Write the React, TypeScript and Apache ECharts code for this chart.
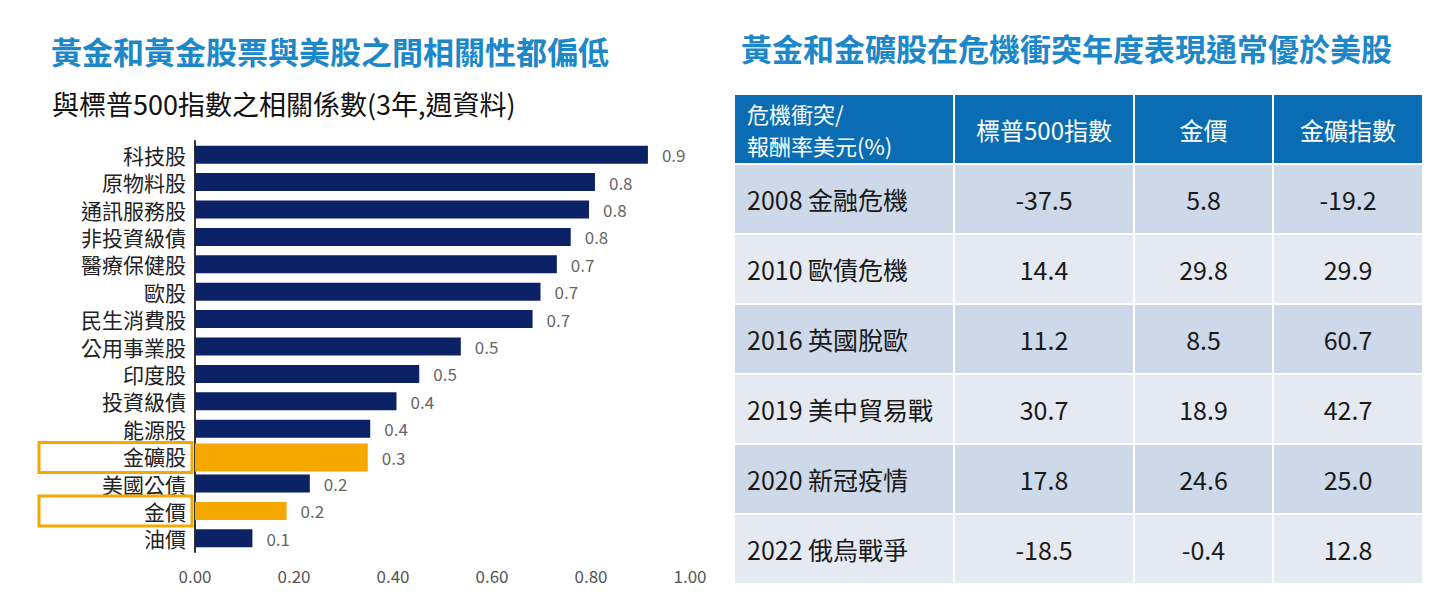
import React, { useEffect, useRef } from "react";
import * as echarts from "echarts";

// ---- Left chart data ----
const categories = ["科技股", "原物料股", "通訊服務股", "非投資級債", "醫療保健股", "歐股", "民生消費股", "公用事業股", "印度股", "投資級債", "能源股", "金礦股", "美國公債", "金價", "油價"];
const correlations = [0.915, 0.808, 0.796, 0.759, 0.731, 0.698, 0.682, 0.537, 0.453, 0.407, 0.354, 0.349, 0.232, 0.185, 0.116];
const highlighted = ["金礦股", "金價"];
const widened = ["金礦股"];

// ---- Right table data ----
const tableHeaders = [["危機衝突/", "報酬率美元(%)"], ["標普500指數"], ["金價"], ["金礦指數"]];
const crises = ["2008 金融危機", "2010 歐債危機", "2016 英國脫歐", "2019 美中貿易戰", "2020 新冠疫情", "2022 俄烏戰爭"];
const sp500Returns = [-37.5, 14.4, 11.2, 30.7, 17.8, -18.5];
const goldReturns = [5.8, 29.8, 8.5, 18.9, 24.6, -0.4];
const goldMinerReturns = [-19.2, 29.9, 60.7, 42.7, 25.0, 12.8];

const leftTitle = "黃金和黃金股票與美股之間相關性都偏低";
const subTitle = "與標普500指數之相關係數(3年,週資料)";
const rightTitle = "黃金和金礦股在危機衝突年度表現通常優於美股";

const FONT = '"Noto Sans CJK TC", "Noto Sans", sans-serif';
const NAVY = "#0b2266";
const ORANGE = "#f5a800";
const TITLE_BLUE = "#1c87c9";
const HEADER_BLUE = "#0a6db4";
const ROW_DARK = "#cdd8e8";
const ROW_LIGHT = "#e5eaf2";

function buildTable() {
  const colEdges = [735, 954, 1134, 1273, 1422];
  const headerTop = 95;
  const headerH = 68;
  const rowTop = 165;
  const rowH = 70;
  const gap = 2;
  const lineStep = 32;
  const els: any[] = [];
  for (let c = 0; c < 4; c++) {
    const x0 = colEdges[c] + (c === 0 ? 0 : gap / 2);
    const x1 = colEdges[c + 1] - (c === 3 ? 0 : gap / 2);
    els.push({ type: "rect", shape: { x: x0, y: headerTop, width: x1 - x0, height: headerH }, style: { fill: HEADER_BLUE } });
    const lines = tableHeaders[c];
    lines.forEach((line, k) => {
      const cy = headerTop + headerH / 2 + (k - (lines.length - 1) / 2) * lineStep;
      els.push({
        type: "text",
        x: c === 0 ? colEdges[0] + 12 : (x0 + x1) / 2,
        y: cy,
        style: {
          text: line,
          fill: "#ffffff",
          fontSize: lines.length > 1 ? 22 : 24,
          lineHeight: lines.length > 1 ? 22 : 26,
          fontFamily: FONT,
          align: c === 0 ? "left" : "center",
          verticalAlign: "middle",
        },
      });
    });
  }
  const rows = crises.map((name, i) => [name, sp500Returns[i].toFixed(1), goldReturns[i].toFixed(1), goldMinerReturns[i].toFixed(1)]);
  rows.forEach((row, r) => {
    const y0 = rowTop + r * rowH;
    for (let c = 0; c < 4; c++) {
      const x0 = colEdges[c] + (c === 0 ? 0 : gap / 2);
      const x1 = colEdges[c + 1] - (c === 3 ? 0 : gap / 2);
      els.push({ type: "rect", shape: { x: x0, y: y0, width: x1 - x0, height: rowH - gap }, style: { fill: r % 2 === 0 ? ROW_DARK : ROW_LIGHT } });
      els.push({
        type: "text",
        x: c === 0 ? colEdges[0] + 12 : (x0 + x1) / 2,
        y: y0 + (rowH - gap) / 2,
        style: {
          text: row[c],
          fill: "#1a1a1a",
          fontSize: 25,
          fontFamily: FONT,
          align: c === 0 ? "left" : "center",
          verticalAlign: "middle",
        },
      });
    }
  });
  return els;
}

export default function App() {
  const ref = useRef<HTMLDivElement>(null);
  useEffect(() => {
    document.body.style.margin = "0";
    if (!ref.current) return;
    const chart = echarts.init(ref.current, undefined, { renderer: "svg" });
    const option: any = {
      animation: false,
      backgroundColor: "#ffffff",
      title: [
        { text: leftTitle, left: 46, top: 30, textStyle: { color: TITLE_BLUE, fontSize: 31, fontWeight: "bold", fontFamily: FONT } },
        { text: subTitle, left: 47, top: 85, textStyle: { color: "#111111", fontSize: 27, fontWeight: "normal", fontFamily: FONT } },
        { text: rightTitle, left: 736, top: 27, textStyle: { color: TITLE_BLUE, fontSize: 31, fontWeight: "bold", fontFamily: FONT } },
      ],
      grid: { left: 195, right: 766, top: 141, bottom: 49, containLabel: false },
      xAxis: {
        type: "value",
        min: 0,
        max: 1,
        interval: 0.2,
        axisLine: { show: false },
        axisTick: { show: false },
        splitLine: { show: false },
        axisLabel: { formatter: (v: number) => v.toFixed(2), color: "#555555", fontSize: 17, fontFamily: FONT, margin: 15 },
      },
      yAxis: {
        type: "category",
        data: categories,
        inverse: true,
        axisLine: { show: true, lineStyle: { color: "#333333", width: 2 } },
        axisTick: { show: false },
        axisLabel: { color: "#222222", fontSize: 21, lineHeight: 22, fontFamily: FONT, margin: 9, interval: 0 },
      },
      series: [
        {
          type: "custom",
          encode: { x: 0, y: 1 },
          data: correlations.map((v, i) => [v, categories[i]]),
          renderItem: (params: any, api: any) => {
            const i = params.dataIndex;
            const v = api.value(0);
            const start = api.coord([0, i]);
            const end = api.coord([v, i]);
            const wide = widened.includes(categories[i]);
            const hl = highlighted.includes(categories[i]);
            const t = wide ? 28 : 18;
            const cy = start[1] + (wide ? 1.5 : 0);
            const children: any[] = [
              {
                type: "rect",
                shape: { x: start[0], y: cy - t / 2, width: end[0] - start[0], height: t },
                style: { fill: hl ? ORANGE : NAVY },
              },
              {
                type: "text",
                x: end[0] + 14,
                y: cy,
                style: { text: v.toFixed(1), fill: "#666666", fontSize: 17, fontFamily: FONT, verticalAlign: "middle", align: "left" },
              },
            ];
            if (hl) {
              children.push({
                type: "rect",
                shape: { x: start[0] - 156, y: cy - 15, width: 153, height: 30 },
                style: { fill: "none", stroke: ORANGE, lineWidth: 3 },
              });
            }
            return { type: "group", children };
          },
        },
      ],
      graphic: buildTable(),
    };
    chart.setOption(option);
    return () => chart.dispose();
  }, []);
  return <div ref={ref} style={{ width: 1456, height: 601 }} />;
}
